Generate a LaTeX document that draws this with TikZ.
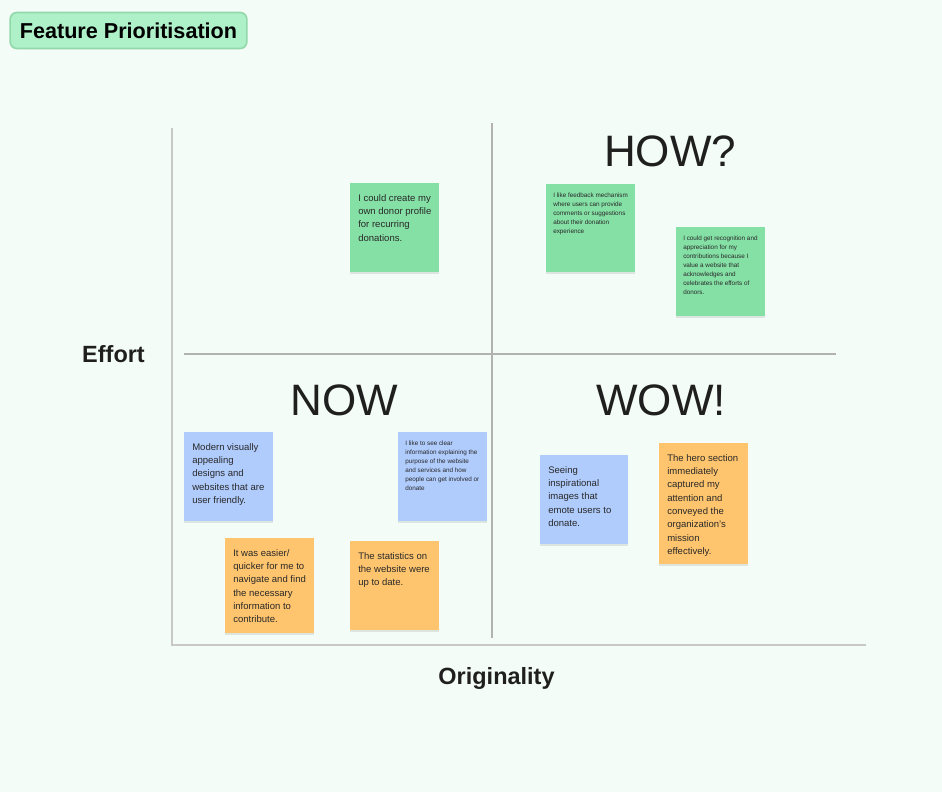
\documentclass[tikz,border=0pt]{standalone}
\usepackage{fontspec}
\setmainfont{Liberation Sans}
\usetikzlibrary{calc,shadows}
\definecolor{bgc}{RGB}{243,252,246}
\definecolor{titlefill}{RGB}{174,240,200}
\definecolor{titledraw}{RGB}{146,216,170}
\definecolor{gnote}{RGB}{133,224,165}
\definecolor{bnote}{RGB}{176,204,253}
\definecolor{onote}{RGB}{255,197,110}
\definecolor{txt}{RGB}{40,40,40}
\definecolor{axisc}{RGB}{200,200,200}
\definecolor{midc}{RGB}{178,178,178}
\newcommand\sticky[9]{%
  \node[stickybox, fill=#6, minimum width=#4*0.75pt, minimum height=#5*0.75pt, anchor=north west] (#1) at (#2,#3) {};
  \node[#7, anchor=north west] (#1t) at ($(#1.north west)+(#8)$) {#9};
}
\begin{document}
\begin{tikzpicture}[x=0.75pt,y=-0.75pt,
  stickybox/.style={draw=none, inner sep=0pt, drop shadow={shadow xshift=0pt, shadow yshift=-1pt, opacity=0.09, fill=black}},
  bigtxt/.style={align=left, inner sep=0pt, text=txt, font=\fontsize{7.15}{10}\selectfont},
  smalltxt/.style={align=left, inner sep=0pt, text=txt, font=\fontsize{4.75}{6.75}\selectfont},
  heading/.style={inner sep=0pt, text=black!88, font=\fontsize{33}{36}\selectfont},
  axislabel/.style={inner sep=0pt, text=black!88, font=\bfseries\fontsize{17.6}{20}\selectfont},
  axis/.style={draw=axisc, line width=1.5pt},
  mid/.style={draw=midc, line width=0.8pt},
  titlebox/.style={fill=titlefill, draw=titledraw, line width=1.2pt, rounded corners=5pt, minimum width=177.5pt, minimum height=27pt, inner sep=0pt, text=black, font=\bfseries\fontsize{16.2}{18}\selectfont}
]
\fill[bgc] (0,0) rectangle (942,792);
\useasboundingbox (0,0) rectangle (942,792);

\node[titlebox] (title) at (128.5,30.5) {Feature Prioritisation};

% axes
\coordinate (ytop) at (172,128);
\coordinate (origin) at (172,645);
\coordinate (xend) at (866,645);
\draw[axis] (ytop) -- (origin) -- (xend);
\coordinate (vtop) at (492,123);
\coordinate (vbot) at (492,638);
\coordinate (hleft) at (184,354);
\coordinate (hright) at (836,354);
\draw[mid] (vtop) -- (vbot);
\draw[mid] (hleft) -- (hright);

\node[axislabel] (effort) at (113.5,354) {Effort};
\node[axislabel] (orig) at (496.5,678) {Originality};

\node[heading] (how) at (670,151) {HOW?};
\node[heading] (now) at (344,400) {NOW};
\node[heading] (wow) at (661,400) {WOW!};

% notes
\sticky{n1}{350}{183}{89}{89}{gnote}{bigtxt}{8,11}{I could create my\\own donor profile\\for recurring\\donations.}
\sticky{n2}{546}{184}{89}{88}{gnote}{smalltxt}{7,9}{I like feedback mechanism\\where users can provide\\comments or suggestions\\about their donation\\experience}
\sticky{n3}{676}{227}{89}{89}{gnote}{smalltxt}{7,9}{I could get recognition and\\appreciation for my\\contributions because I\\value a website that\\acknowledges and\\celebrates the efforts of\\donors.}
\sticky{n4}{184}{432}{89}{89}{bnote}{bigtxt}{8,11}{Modern visually\\appealing\\designs and\\websites that are\\user friendly.}
\sticky{n5}{398}{432}{89}{89}{bnote}{smalltxt}{7,9}{I like to see clear\\information explaining the\\purpose of the website\\and services and how\\people can get involved or\\donate}
\sticky{n6}{225}{538}{89}{95}{onote}{bigtxt}{8,11}{It was easier/\\quicker for me to\\navigate and find\\the necessary\\information to\\contribute.}
\sticky{n7}{350}{541}{89}{89}{onote}{bigtxt}{8,11}{The statistics on\\the website were\\up to date.}
\sticky{n8}{540}{455}{88}{89}{bnote}{bigtxt}{8,11}{Seeing\\inspirational\\images that\\emote users to\\donate.}
\sticky{n9}{659}{443}{89}{121}{onote}{bigtxt}{8,11}{The hero section\\immediately\\captured my\\attention and\\conveyed the\\organization's\\mission\\effectively.}
\end{tikzpicture}
\end{document}
